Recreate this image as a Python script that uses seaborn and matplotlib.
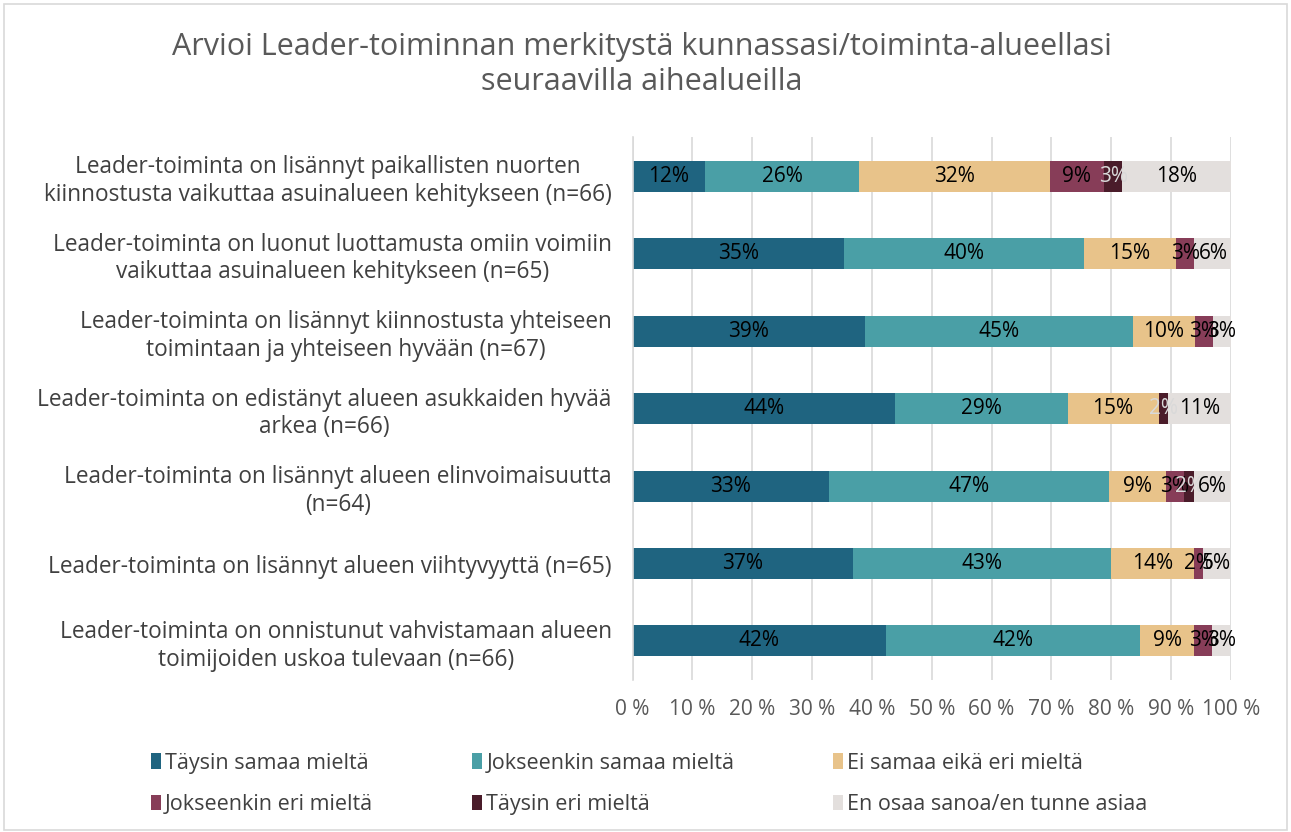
import numpy as np
import pandas as pd
import matplotlib
matplotlib.use("Agg")
import matplotlib.pyplot as plt
import seaborn as sns
from matplotlib.patches import Rectangle, Patch

title = "Arvioi Leader-toiminnan merkitystä kunnassasi/toiminta-alueellasi\nseuraavilla aihealueilla"

categories = [
    "Leader-toiminta on lisännyt paikallisten nuorten\nkiinnostusta vaikuttaa asuinalueen kehitykseen (n=66)",
    "Leader-toiminta on luonut luottamusta omiin voimiin\nvaikuttaa asuinalueen kehitykseen (n=65)",
    "Leader-toiminta on lisännyt kiinnostusta yhteiseen\ntoimintaan ja yhteiseen hyvään (n=67)",
    "Leader-toiminta on edistänyt alueen asukkaiden hyvää\narkea (n=66)",
    "Leader-toiminta on lisännyt alueen elinvoimaisuutta\n(n=64)",
    "Leader-toiminta on lisännyt alueen viihtyvyyttä (n=65)",
    "Leader-toiminta on onnistunut vahvistamaan alueen\ntoimijoiden uskoa tulevaan (n=66)",
]

series_names = [
    "Täysin samaa mieltä",
    "Jokseenkin samaa mieltä",
    "Ei samaa eikä eri mieltä",
    "Jokseenkin eri mieltä",
    "Täysin eri mieltä",
    "En osaa sanoa/en tunne asiaa",
]

taysin_samaa = [12.1, 35.4, 38.8, 43.9, 32.8, 36.9, 42.4]
jokseenkin_samaa = [25.8, 40.0, 44.8, 28.8, 46.9, 43.1, 42.4]
ei_samaa_eika_eri = [31.8, 15.4, 10.4, 15.2, 9.4, 13.8, 9.1]
jokseenkin_eri = [9.1, 3.1, 3.0, 0.0, 3.1, 1.5, 3.0]
taysin_eri = [3.0, 0.0, 0.0, 1.5, 1.6, 0.0, 0.0]
en_osaa = [18.2, 6.2, 3.0, 10.6, 6.3, 4.6, 3.0]

series_values = [taysin_samaa, jokseenkin_samaa, ei_samaa_eika_eri,
                 jokseenkin_eri, taysin_eri, en_osaa]

xtick_values = [0, 10, 20, 30, 40, 50, 60, 70, 80, 90, 100]
xtick_labels = ["0 %", "10 %", "20 %", "30 %", "40 %", "50 %", "60 %", "70 %", "80 %", "90 %", "100 %"]

colors = ["#1F6480", "#4A9FA6", "#E8C38A", "#873D58", "#4A1C2A", "#E3DFDD"]
label_colors = ["#000000", "#000000", "#000000", "#000000", "#D9D9D9", "#000000"]

sns.set_theme(style="white")
FONT = ["Open Sans", "DejaVu Sans"]
plt.rcParams["font.family"] = FONT

fig = plt.figure(figsize=(12.91, 8.32), dpi=100)
ax = fig.add_axes([0.490, 0.183, 0.4635, 0.652])

vals = np.array(series_values)
cum = np.cumsum(vals, axis=0)

# Draw stacked bars via cumulative totals, largest first
for i in range(len(series_names) - 1, -1, -1):
    df = pd.DataFrame({"cat": categories, "val": cum[i]})
    sns.barplot(data=df, x="val", y="cat", orient="h", color=colors[i],
                saturation=1, width=0.4, ax=ax, linewidth=0, order=categories)

# Segment labels
for i in range(len(series_names)):
    for j in range(len(categories)):
        v = vals[i, j]
        if v <= 0:
            continue
        center = cum[i, j] - v / 2
        ax.text(center, j, f"{v:.0f}%", ha="center", va="center",
                fontsize=15, color=label_colors[i], family=FONT)

ax.set_xlim(0, 100)
ax.set_ylim(6.5, -0.5)
ax.set_xticks(xtick_values)
ax.set_xticklabels(xtick_labels, fontsize=15, color="#595959")
ax.set_xlabel("")
ax.set_ylabel("")
ax.tick_params(axis="y", labelsize=16.3, labelcolor="#404040", length=0, pad=15)
ax.tick_params(axis="x", length=0, pad=14)
for lbl in ax.get_yticklabels():
    lbl.set_multialignment("center")
ax.xaxis.grid(True, color="#D9D9D9", linewidth=1.2)
ax.set_axisbelow(True)
for s in ["top", "right", "bottom"]:
    ax.spines[s].set_visible(False)
ax.spines["left"].set_color("#D9D9D9")
ax.spines["left"].set_linewidth(1.2)

fig.suptitle(title, x=0.497, y=0.962, fontsize=22, color="#595959", linespacing=1.25)

handles = [Patch(facecolor=c, edgecolor="none") for c in colors]
order = [0, 3, 1, 4, 2, 5]
fig.legend([handles[k] for k in order], [series_names[k] for k in order],
           loc="center", bbox_to_anchor=(0.503, 0.058),
           ncol=3, frameon=False, fontsize=15.5, handlelength=0.45, handleheight=0.7,
           handletextpad=0.2, columnspacing=4.6, labelspacing=0.95,
           labelcolor="#404040")

fig.patches.append(Rectangle((0.003, 0.003), 0.994, 0.992, transform=fig.transFigure,
                             fill=False, edgecolor="#D9D9D9", linewidth=1.2))

fig.savefig("out.png", dpi=100, facecolor="white")
